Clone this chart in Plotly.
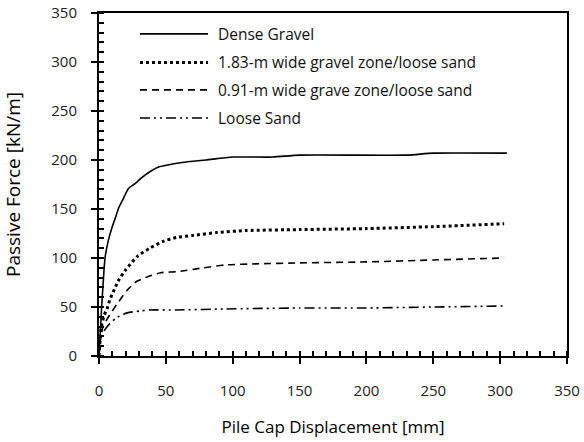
import plotly.graph_objects as go

# Dense Gravel
dg_x = [0, 1, 2, 3, 4.5, 7, 9.5, 12, 15, 18, 22, 27, 32, 38, 45, 55, 65, 80, 100, 130, 150, 230, 250, 305]
dg_y = [0, 25, 50, 72, 100, 118, 130, 140, 152, 160, 171, 176, 182, 188, 193, 196, 198, 200, 203, 203, 205, 205, 207, 207]

# 1.83-m wide gravel zone/loose sand
g183_x = [0, 1, 2, 4, 6, 8, 11.5, 15, 20, 29, 38, 48, 58, 70, 88, 110, 150, 200, 250, 303]
g183_y = [0, 20, 32, 42, 48, 57, 68, 78, 88, 102, 110, 117, 121, 123, 126, 128, 129, 130, 132, 135]

# 0.91-m wide grave zone/loose sand
g091_x = [0, 1, 3, 8, 14, 21, 28, 35, 46, 58, 78, 95, 117, 150, 200, 250, 303]
g091_y = [0, 15, 30, 42, 54, 67, 76, 80, 85, 86, 90, 93, 94, 95, 96, 98, 100]

# Loose Sand
ls_x = [0, 1, 4.5, 8, 13, 21, 31, 38, 58, 95, 150, 200, 250, 303]
ls_y = [0, 20, 27, 33, 39, 44, 46, 47, 47, 48, 49, 49, 50, 51]

names = ["Dense Gravel", "1.83-m wide gravel zone/loose sand",
         "0.91-m wide grave zone/loose sand", "Loose Sand"]

font_family = "Open Sans, sans-serif"

styles = [
    dict(color="black", width=1.6),
    dict(color="black", width=3, dash="dot"),
    dict(color="black", width=1.6, dash="7px,5px"),
    dict(color="black", width=1.6, dash="10px,4px,2px,4px,2px,4px"),
]
series = [(dg_x, dg_y), (g183_x, g183_y), (g091_x, g091_y), (ls_x, ls_y)]

fig = go.Figure()
for (xs, ys), nm, st in zip(series, names, styles):
    fig.add_trace(go.Scatter(x=xs, y=ys, mode="lines", name=nm,
                             line=dict(shape="spline", smoothing=0.6, **st),
                             showlegend=False))

# Manual legend (long line samples like the reference)
leg_y = [0.939, 0.856, 0.776, 0.694]
for nm, st, ly in zip(names, styles, leg_y):
    fig.add_shape(type="line", xref="paper", yref="paper",
                  x0=0.0876, x1=0.233, y0=ly, y1=ly, line=st)
    fig.add_annotation(xref="paper", yref="paper", x=0.25, y=ly, text=nm,
                       showarrow=False, xanchor="left", yanchor="middle",
                       font=dict(family=font_family, size=15.5, color="#111"))

axis_common = dict(
    showgrid=False, zeroline=False, showline=True, linecolor="black", linewidth=2,
    mirror=True, ticks="outside", ticklen=6, tickwidth=2, tickcolor="black",
    tickfont=dict(family=font_family, size=15, color="#222"),
    range=[0, 350], dtick=50, tick0=0, automargin=False,
    ticklabeloverflow="allow",
)

fig.update_layout(
    width=584, height=442,
    margin=dict(l=99, r=17, t=13, b=86, autoexpand=False),
    plot_bgcolor="white", paper_bgcolor="white",
    font=dict(family=font_family, size=15, color="black"),
    xaxis=dict(**axis_common,
               minor=dict(ticks="inside", ticklen=5, tickwidth=1.5, dtick=10, tickcolor="black"),
               ticklabelstandoff=14,
               title=dict(text="Pile Cap Displacement [mm]", font=dict(size=17), standoff=22)),
    yaxis=dict(**axis_common,
               minor=dict(ticks="inside", ticklen=5, tickwidth=1.5, dtick=10, tickcolor="black"),
               ticklabelstandoff=11,
               title=dict(text="Passive Force [kN/m]", font=dict(size=19), standoff=30)),
    xaxis2=dict(overlaying="x", anchor="y", range=[0, 350], dtick=50, tick0=0,
                ticks="inside", ticklen=6, tickwidth=2, tickcolor="black",
                showticklabels=False, showgrid=False, zeroline=False, showline=False,
                side="bottom"),
    yaxis2=dict(overlaying="y", anchor="x", range=[0, 350], dtick=50, tick0=0,
                ticks="inside", ticklen=6, tickwidth=2, tickcolor="black",
                showticklabels=False, showgrid=False, zeroline=False, showline=False,
                side="left"),
    showlegend=False,
)

# remove the default 8px page margin so the 584x442 figure fills the window
fig.write_html("out.html", config={"displayModeBar": False},
               post_script="document.body.style.margin='0px';")
